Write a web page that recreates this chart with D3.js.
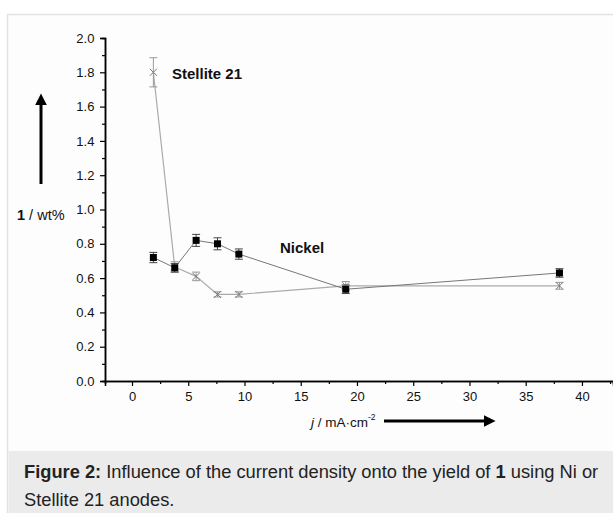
<!DOCTYPE html>
<html>
<head>
<meta charset="utf-8">
<script src="https://cdn.jsdelivr.net/npm/d3@7"></script>
<style>
  body { margin: 0; background: #fff; }
  svg text { font-family: "Liberation Sans", Arial, sans-serif; }
</style>
</head>
<body>
<div id="chart-area"></div>
<script>
// current density (mA/cm2) and yield of 1 (wt%)
var currentDensity = [1.9, 3.8, 5.7, 7.6, 9.5, 19, 38];
var nickelYield = [0.72, 0.66, 0.82, 0.80, 0.74, 0.535, 0.63];
var nickelErr = [0.03, 0.025, 0.035, 0.035, 0.03, 0.025, 0.025];
var stelliteYield = [1.80, 0.665, 0.61, 0.505, 0.505, 0.555, 0.555];
var stelliteErr = [0.085, 0.03, 0.025, 0.015, 0.015, 0.025, 0.02];
var xTicks = [0, 5, 10, 15, 20, 25, 30, 35, 40];
var yTicks = [0.0, 0.2, 0.4, 0.6, 0.8, 1.0, 1.2, 1.4, 1.6, 1.8, 2.0];

var width = 613, height = 513;

var svg = d3.select("#chart-area").append("svg")
  .attr("width", width)
  .attr("height", height);

// frame + caption box
svg.append("rect")
  .attr("x", 7.5).attr("y", 14.5)
  .attr("width", 620).attr("height", 520)
  .attr("fill", "#fdfdfd")
  .attr("stroke", "#e2e2e2").attr("stroke-width", 1.5);
svg.append("rect")
  .attr("x", 8.5).attr("y", 451)
  .attr("width", 620).attr("height", 70)
  .attr("fill", "#ebebeb");

var x = d3.scaleLinear().domain([-2.4, 42.76]).range([105, 613]);
var y = d3.scaleLinear().domain([0, 2]).range([381, 38]);

// axes
var xAxis = d3.axisBottom(x).tickValues(xTicks).tickSize(5).tickFormat(d3.format("d"));
var xMinor = d3.axisBottom(x).tickValues(d3.range(2.5, 42.6, 5)).tickSize(3).tickFormat("");
var yAxis = d3.axisLeft(y).tickValues(yTicks).tickSize(5).tickFormat(d3.format(".1f"));
var yMinor = d3.axisLeft(y).tickValues(d3.range(0.1, 2, 0.2)).tickSize(3).tickFormat("");

function styleAxis(g) {
  g.select(".domain").attr("stroke", "#000").attr("stroke-width", 1.5);
  g.selectAll(".tick line").attr("stroke", "#000").attr("stroke-width", 1.2);
  g.selectAll(".tick text").attr("font-size", 13).attr("fill", "#111")
    .attr("font-family", "'Liberation Sans', Arial, sans-serif");
}

svg.append("g").attr("transform", "translate(0,381)").call(xMinor).call(styleAxis);
svg.append("g").attr("transform", "translate(0,381)").call(xAxis).call(styleAxis)
  .selectAll(".tick text").attr("dy", "0.95em");
svg.append("g").attr("transform", "translate(105,0)").call(yMinor).call(styleAxis);
svg.append("g").attr("transform", "translate(105,0)").call(yAxis).call(styleAxis)
  .selectAll(".tick text").attr("dx", "-0.2em");

// arrows
var defs = svg.append("defs");
defs.append("marker").attr("id", "head")
  .attr("viewBox", "0 0 10 10").attr("refX", 2).attr("refY", 5)
  .attr("markerWidth", 4).attr("markerHeight", 4)
  .attr("orient", "auto")
  .append("path").attr("d", "M0,0 L10,5 L0,10 z").attr("fill", "#000");

svg.append("line")
  .attr("x1", 41).attr("y1", 184).attr("x2", 41).attr("y2", 103)
  .attr("stroke", "#000").attr("stroke-width", 3)
  .attr("marker-end", "url(#head)");
svg.append("line")
  .attr("x1", 384).attr("y1", 421).attr("x2", 486).attr("y2", 421)
  .attr("stroke", "#000").attr("stroke-width", 3)
  .attr("marker-end", "url(#head)");

// axis labels
var yl = svg.append("text").attr("x", 17).attr("y", 220).attr("font-size", 14.5).attr("fill", "#111");
yl.append("tspan").attr("font-weight", "bold").text("1");
yl.append("tspan").text(" / wt%");

var xl = svg.append("text").attr("x", 311).attr("y", 427).attr("font-size", 13.5).attr("fill", "#111");
xl.append("tspan").attr("font-style", "italic").text("j");
xl.append("tspan").text(" / mA\u00b7cm");
xl.append("tspan").attr("font-size", 8.5).attr("dy", -7).text("-2");

// series
var nickel = currentDensity.map(function(d, i) { return {x: d, y: nickelYield[i], e: nickelErr[i]}; });
var stellite = currentDensity.map(function(d, i) { return {x: d, y: stelliteYield[i], e: stelliteErr[i]}; });

var line = d3.line().x(function(d) { return x(d.x); }).y(function(d) { return y(d.y); });

function errorBars(data, color) {
  var g = svg.append("g").attr("stroke", color).attr("stroke-width", 1);
  data.forEach(function(d) {
    var cx = x(d.x), top = y(d.y + d.e), bot = y(d.y - d.e);
    g.append("line").attr("x1", cx).attr("x2", cx).attr("y1", top).attr("y2", bot);
    g.append("line").attr("x1", cx - 4).attr("x2", cx + 4).attr("y1", top).attr("y2", top);
    g.append("line").attr("x1", cx - 4).attr("x2", cx + 4).attr("y1", bot).attr("y2", bot);
  });
}

svg.append("path").datum(stellite).attr("d", line)
  .attr("fill", "none").attr("stroke", "#aaa").attr("stroke-width", 1.2);
svg.append("path").datum(nickel).attr("d", line)
  .attr("fill", "none").attr("stroke", "#777").attr("stroke-width", 1);

errorBars(stellite, "#999");
errorBars(nickel, "#444");

svg.append("g").selectAll("path.x").data(stellite).enter().append("path")
  .attr("d", function(d) {
    var cx = x(d.x), cy = y(d.y), s = 3.5;
    return "M" + (cx - s) + "," + (cy - s) + "L" + (cx + s) + "," + (cy + s) +
           "M" + (cx - s) + "," + (cy + s) + "L" + (cx + s) + "," + (cy - s);
  })
  .attr("stroke", "#777").attr("stroke-width", 1).attr("fill", "none");

svg.append("g").selectAll("rect").data(nickel).enter().append("rect")
  .attr("x", function(d) { return x(d.x) - 3.5; })
  .attr("y", function(d) { return y(d.y) - 3.5; })
  .attr("width", 7).attr("height", 7)
  .attr("fill", "#000");

// series labels
svg.append("text").attr("x", 172).attr("y", 79).attr("font-size", 15)
  .attr("font-weight", "bold").attr("fill", "#111").text("Stellite 21");
svg.append("text").attr("x", 280).attr("y", 253).attr("font-size", 15)
  .attr("font-weight", "bold").attr("fill", "#111").text("Nickel");

// caption
var cap = svg.append("text").attr("x", 24).attr("y", 478).attr("font-size", 18.3).attr("fill", "#222");
cap.append("tspan").attr("font-weight", "bold").text("Figure 2:");
cap.append("tspan").text(" Influence of the current density onto the yield of ");
cap.append("tspan").attr("font-weight", "bold").text("1");
cap.append("tspan").text(" using Ni or");
svg.append("text").attr("x", 24).attr("y", 506).attr("font-size", 18.3).attr("fill", "#222")
  .text("Stellite 21 anodes.");
</script>
</body>
</html>
